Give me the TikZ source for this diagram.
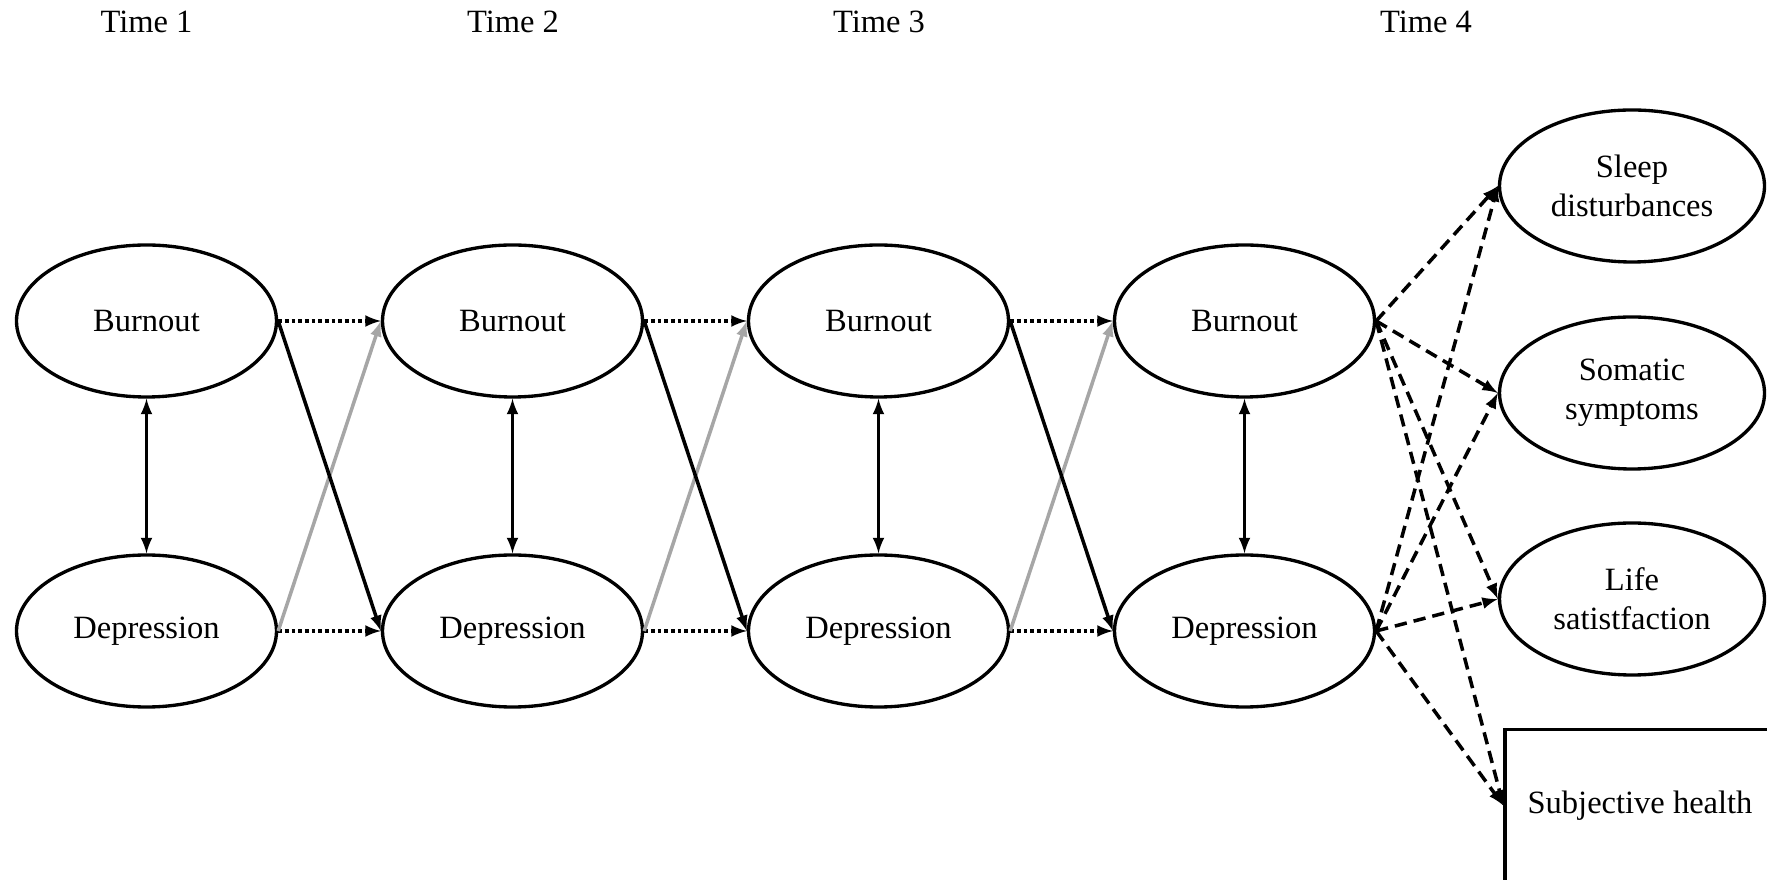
\documentclass[tikz,border=0pt]{standalone}
\usepackage{fontspec}
\setmainfont{Liberation Serif}
\usetikzlibrary{arrows,shapes.geometric}
\definecolor{laggray}{rgb}{0.65,0.65,0.65}
\tikzset{
  latent/.style={draw, ellipse, line width=1.9pt, minimum width=5.2cm,
    minimum height=3.04cm, inner sep=0pt, align=center},
  stab/.style={->, >=latex, line width=2pt, dash pattern=on 2.1pt off 1.7pt},
  lag/.style={->, >=latex, line width=2pt},
  laggr/.style={lag, laggray},
  outpath/.style={->, >=latex, line width=2pt, dash pattern=on 7pt off 4pt},
}

\begin{document}
\begin{tikzpicture}[font=\fontsize{18.5}{22}\selectfont]
\path[use as bounding box, clip] (0,0) rectangle (35.34,17.58);
% time labels
\foreach \x/\t in {2.93/1,10.26/2,17.58/3,28.52/4}
    \node (t\t) at (\x,17.14) {Time \t};
% burnout and depression
\foreach \i in {1,...,4} {
    \node[latent] (b\i) at ({2.93+7.32*(\i-1)},11.16) {Burnout};
    \node[latent] (d\i) at ({2.93+7.32*(\i-1)},4.96) {Depression};
    \draw[lag, <->] (b\i) -- (d\i);
}
% lagged paths
\foreach \i [count=\j from 2] in {1,2,3} {
    \draw[stab] (b\i.east) -- (b\j.west);
    \draw[stab] (d\i.east) -- (d\j.west);
    \draw[laggr] (d\i.east) -- (b\j.west);
    \draw[lag] (b\i.east) -- (d\j.west);
}
% outcomes
  \node[latent, minimum width=5.3cm] (sleep) at (32.64,13.86) {Sleep\\disturbances};
  \node[latent, minimum width=5.3cm] (somatic) at (32.64,9.72) {Somatic\\symptoms};
  \node[latent, minimum width=5.3cm] (life) at (32.64,5.6) {Life\\satistfaction};
  \node[draw, line width=1.9pt, minimum width=5.4cm, minimum height=3.05cm] (health) at (32.8,1.47) {Subjective health};
\foreach \o in {sleep,somatic,life,health} {
    \draw[outpath] (b4.east) -- (\o.west);
    \draw[outpath] (d4.east) -- (\o.west);
}
\end{tikzpicture}
\end{document}
